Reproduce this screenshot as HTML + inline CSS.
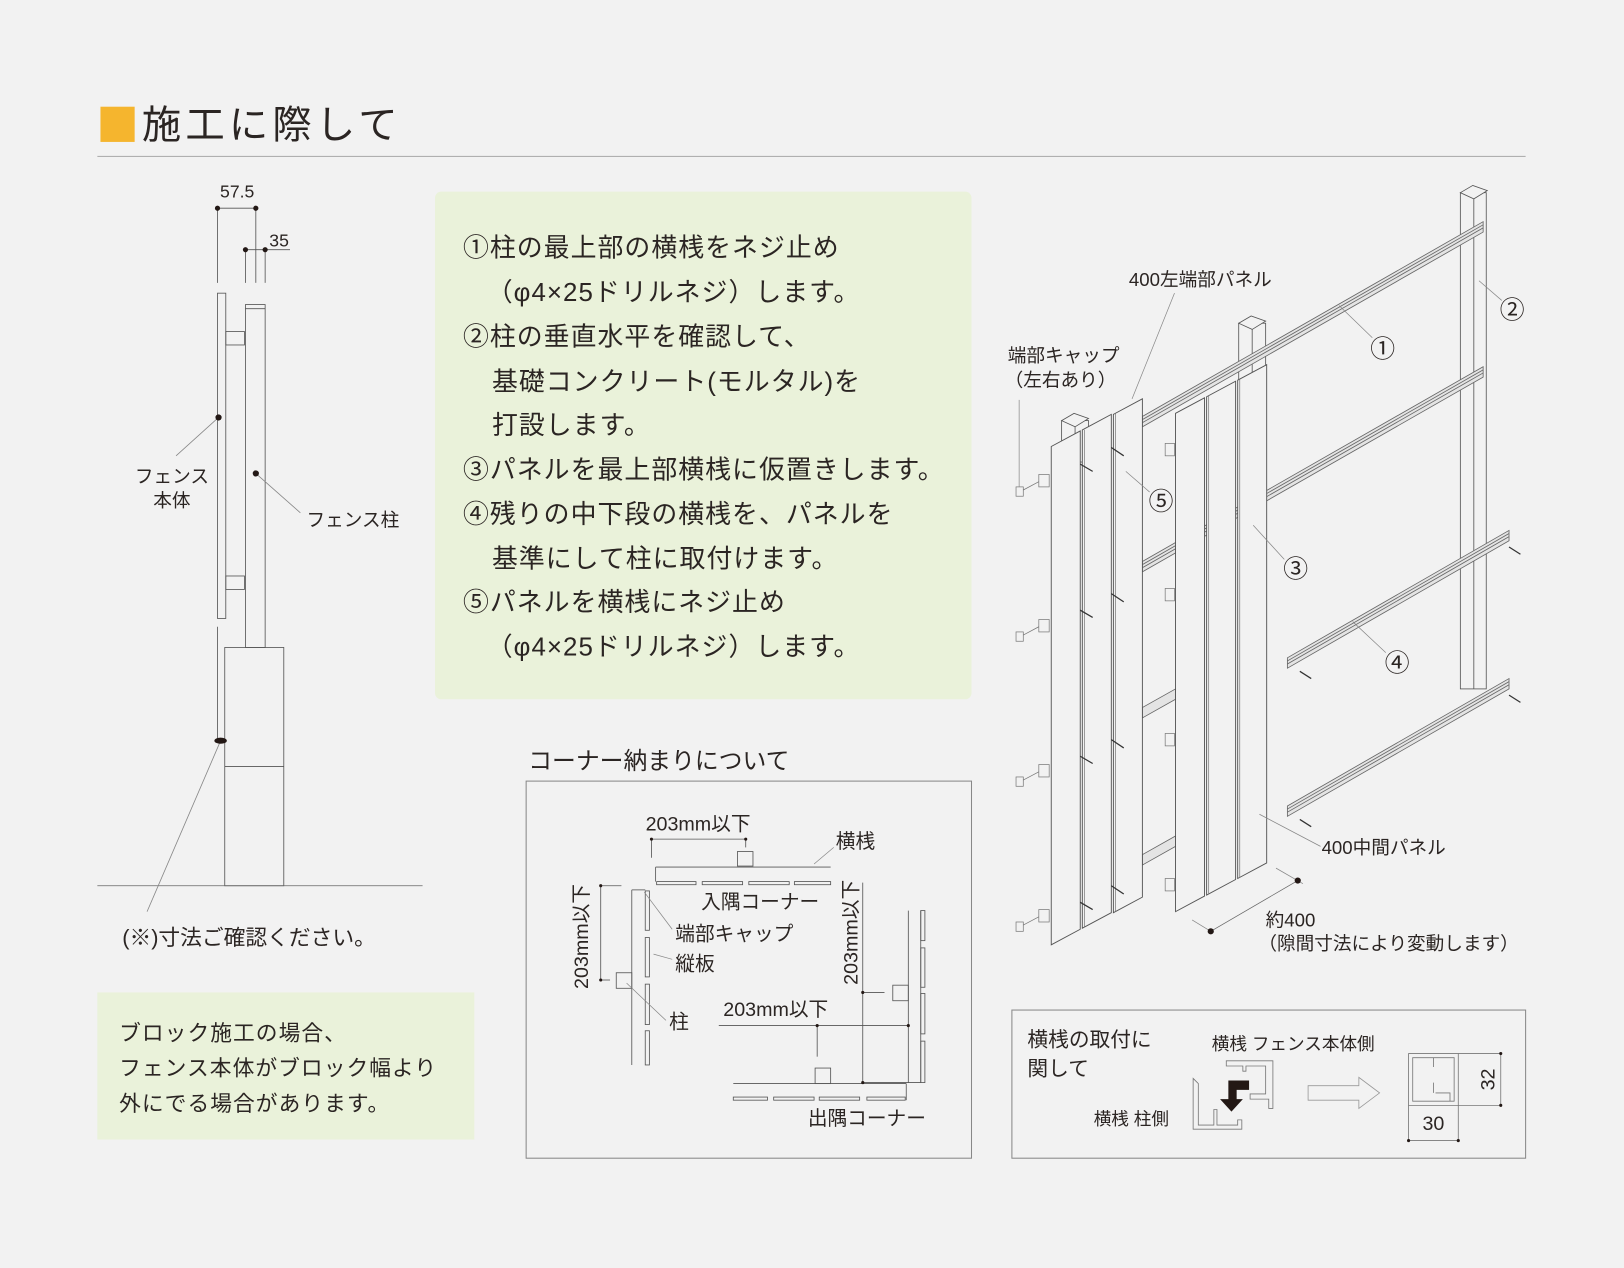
<!DOCTYPE html>
<html><head><meta charset="utf-8">
<style>
html,body{margin:0;padding:0;background:#f2f2f2;}
svg{display:block;}
text{font-family:"Liberation Sans","Noto Sans CJK JP",sans-serif;fill:#2b2523;}
</style></head>
<body>
<svg width="1624" height="1268" viewBox="0 0 1568 1224" preserveAspectRatio="none" xmlns="http://www.w3.org/2000/svg">
<rect width="1568" height="1224" fill="#f2f2f2"/>

<!-- Title -->
<rect x="97" y="103" width="33" height="34" fill="#f5b52e"/>
<text x="137" y="121" font-size="38" dominant-baseline="central" letter-spacing="4">施工に際して</text>
<line x1="94" y1="151" x2="1473" y2="151" stroke="#b0b0b0" stroke-width="1"/>

<!-- Left post diagram -->
<g stroke="#555" stroke-width="0.8" fill="none">
  <line x1="210" y1="201" x2="247" y2="201"/>
  <line x1="210" y1="201" x2="210" y2="273"/>
  <line x1="247" y1="201" x2="247" y2="273"/>
  <line x1="237" y1="241" x2="280" y2="241"/>
  <line x1="237" y1="241" x2="237" y2="273"/>
  <line x1="256" y1="241" x2="256" y2="273"/>
  <rect x="210" y="283" width="8" height="314"/>
  <rect x="237" y="294" width="19" height="331"/>
  <line x1="237" y1="298" x2="256" y2="298"/>
  <rect x="218" y="320" width="18" height="13"/>
  <rect x="218" y="556" width="18" height="13"/>
  <rect x="217" y="625" width="57" height="230"/>
  <line x1="217" y1="740" x2="274" y2="740"/>
  <line x1="210" y1="605" x2="210" y2="715"/>
  <line x1="94" y1="855" x2="408" y2="855" stroke="#666"/>
</g>
<g stroke="#888" stroke-width="0.8">
  <line x1="211" y1="403" x2="170" y2="440"/>
  <line x1="247" y1="457" x2="290" y2="495"/>
  <line x1="213" y1="715" x2="142" y2="880"/>
</g>
<g fill="#231815">
  <circle cx="210" cy="201" r="2.5"/><circle cx="247" cy="201" r="2.5"/>
  <circle cx="237" cy="241" r="2.5"/><circle cx="256" cy="241" r="2.5"/>
  <circle cx="211" cy="403" r="3"/><circle cx="247" cy="457" r="3"/>
  <ellipse cx="213" cy="715" rx="6" ry="3"/>
</g>
<text x="229" y="185" font-size="17" text-anchor="middle" dominant-baseline="central">57.5</text>
<text x="260" y="232" font-size="17" dominant-baseline="central">35</text>
<text x="166" y="460" font-size="18" text-anchor="middle" dominant-baseline="central">フェンス</text>
<text x="166" y="483" font-size="18" text-anchor="middle" dominant-baseline="central">本体</text>
<text x="296" y="502" font-size="18" dominant-baseline="central">フェンス柱</text>
<text x="118" y="905" font-size="21" dominant-baseline="central">(※)寸法ご確認ください。</text>

<rect x="94" y="958" width="364" height="142" fill="#eaf2da"/>
<text x="115" y="997" font-size="21" dominant-baseline="central" letter-spacing="1">ブロック施工の場合、</text>
<text x="115" y="1031" font-size="21" dominant-baseline="central" letter-spacing="1">フェンス本体がブロック幅より</text>
<text x="115" y="1065" font-size="21" dominant-baseline="central" letter-spacing="1">外にでる場合があります。</text>

<!-- Instruction box -->
<rect x="420" y="185" width="518" height="490" rx="6" fill="#eaf2da"/>
<g font-size="25" letter-spacing="1">
<text x="447" y="240" dominant-baseline="central">①柱の最上部の横桟をネジ止め</text>
<text x="470" y="283" dominant-baseline="central">（φ4×25ドリルネジ）します。</text>
<text x="447" y="326" dominant-baseline="central">②柱の垂直水平を確認して、</text>
<text x="475" y="369" dominant-baseline="central">基礎コンクリート(モルタル)を</text>
<text x="475" y="411" dominant-baseline="central">打設します。</text>
<text x="447" y="454" dominant-baseline="central">③パネルを最上部横桟に仮置きします。</text>
<text x="447" y="497" dominant-baseline="central">④残りの中下段の横桟を、パネルを</text>
<text x="475" y="540" dominant-baseline="central">基準にして柱に取付けます。</text>
<text x="447" y="582" dominant-baseline="central">⑤パネルを横桟にネジ止め</text>
<text x="470" y="625" dominant-baseline="central">（φ4×25ドリルネジ）します。</text>
</g>

<!-- Corner section -->
<text x="510" y="735" font-size="23" dominant-baseline="central">コーナー納まりについて</text>
<rect x="508" y="754" width="430" height="364" fill="none" stroke="#888" stroke-width="1"/>
<g stroke="#555" stroke-width="0.8" fill="none">
  <line x1="629" y1="810" x2="720" y2="810"/>
  <line x1="629" y1="810" x2="629" y2="828"/>
  <line x1="720" y1="810" x2="720" y2="818"/>
  <rect x="712" y="822" width="15" height="14"/>
  <line x1="633" y1="837" x2="802" y2="837"/>
  <line x1="633" y1="837" x2="633" y2="851"/>
  <rect x="634" y="851" width="38" height="3"/><rect x="678" y="851" width="39" height="3"/>
  <rect x="723" y="851" width="39" height="3"/><rect x="767" y="851" width="35" height="3"/>
  <line x1="580" y1="855" x2="580" y2="946"/>
  <line x1="580" y1="855" x2="600" y2="855"/>
  <line x1="580" y1="946" x2="589" y2="946"/>
  <line x1="610" y1="859" x2="610" y2="1028"/>
  <line x1="610" y1="859" x2="623" y2="859"/>
  <rect x="623" y="860" width="4" height="38"/><rect x="623" y="905" width="4" height="38"/>
  <rect x="623" y="950" width="4" height="39"/><rect x="623" y="995" width="4" height="33"/>
  <rect x="595" y="939" width="15" height="15"/>
  <line x1="833" y1="852" x2="833" y2="1045"/>
  <line x1="833" y1="958" x2="854" y2="958"/>
  <rect x="862" y="951" width="15" height="15"/>
  <line x1="694" y1="990" x2="877" y2="990"/>
  <line x1="789" y1="990" x2="789" y2="1020"/>
  <rect x="787" y="1031" width="15" height="15"/>
  <line x1="708" y1="1046" x2="875" y2="1046"/>
  <line x1="875" y1="1046" x2="875" y2="1062"/>
  <line x1="833" y1="1045" x2="889" y2="1045"/>
  <rect x="708" y="1059" width="33" height="3"/><rect x="747" y="1059" width="39" height="3"/>
  <rect x="791" y="1059" width="39" height="3"/><rect x="837" y="1059" width="37" height="3"/>
  <line x1="877" y1="879" x2="877" y2="1045"/>
  <line x1="889" y1="879" x2="889" y2="1045"/>
  <rect x="889" y="879" width="4" height="29"/><rect x="889" y="915" width="4" height="38"/>
  <rect x="889" y="959" width="4" height="39"/><rect x="889" y="1005" width="4" height="40"/>
</g>
<g stroke="#888" stroke-width="0.7">
  <line x1="786" y1="834" x2="805" y2="818"/>
  <line x1="622" y1="861" x2="649" y2="897"/>
  <line x1="631" y1="921" x2="649" y2="926"/>
  <line x1="605" y1="949" x2="643" y2="985"/>
</g>
<g fill="#231815">
  <circle cx="629" cy="810" r="1.5"/><circle cx="720" cy="810" r="1.5"/>
  <circle cx="580" cy="855" r="1.5"/><circle cx="580" cy="946" r="1.5"/>
  <circle cx="833" cy="958" r="1.5"/><circle cx="833" cy="1045" r="1.5"/>
  <circle cx="789" cy="990" r="1.5"/><circle cx="877" cy="990" r="1.5"/>
</g>
<g font-size="19">
<text x="674" y="796" text-anchor="middle" dominant-baseline="central">203mm以下</text>
<text x="807" y="813" dominant-baseline="central">横桟</text>
<text x="677" y="871" dominant-baseline="central">入隅コーナー</text>
<text transform="translate(562,904) rotate(-90)" text-anchor="middle" dominant-baseline="central">203mm以下</text>
<text x="652" y="902" dominant-baseline="central">端部キャップ</text>
<text x="652" y="931" dominant-baseline="central">縦板</text>
<text x="646" y="987" dominant-baseline="central">柱</text>
<text transform="translate(822,900) rotate(-90)" text-anchor="middle" dominant-baseline="central">203mm以下</text>
<text x="749" y="975" text-anchor="middle" dominant-baseline="central">203mm以下</text>
<text x="780" y="1080" dominant-baseline="central">出隅コーナー</text>
</g>

<!-- Isometric drawing -->
<g stroke="#555" stroke-width="0.8" fill="#f2f2f2">
  <!-- right post -->
  <rect x="1410" y="186" width="25" height="479"/>
  <line x1="1423" y1="192" x2="1423" y2="665"/>
  <polygon points="1410,186 1422,179 1436,184 1423,192"/>
  <!-- middle post -->
  <rect x="1196" y="312" width="26" height="80"/>
  <line x1="1209" y1="318" x2="1209" y2="392"/>
  <polygon points="1196,312 1208,305 1222,310 1209,318"/>
  <!-- left post -->
  <rect x="1025" y="406" width="26" height="40"/>
  <line x1="1038" y1="412" x2="1038" y2="446"/>
  <polygon points="1025,406 1037,399 1051,404 1038,412"/>
</g>
<g stroke="#666" stroke-width="0.8" fill="#e4e4e4">
  <!-- rails -->
  <polygon points="1103,402 1432,214 1432,224 1103,412"/>
  <line x1="1103" y1="405" x2="1432" y2="217"/><line x1="1103" y1="408" x2="1432" y2="220"/>
  <polygon points="1103,542 1432,354 1432,364 1103,552"/>
  <line x1="1103" y1="545" x2="1432" y2="357"/><line x1="1103" y1="548" x2="1432" y2="360"/>
  <polygon points="1243,635 1457,512 1457,522 1243,645"/>
  <line x1="1243" y1="638" x2="1457" y2="515"/><line x1="1243" y1="641" x2="1457" y2="518"/>
  <polygon points="1243,778 1457,655 1457,665 1243,788"/>
  <line x1="1243" y1="781" x2="1457" y2="658"/><line x1="1243" y1="784" x2="1457" y2="661"/>
  <polygon points="1103,683 1135,665 1135,675 1103,693"/>
  <polygon points="1103,825 1135,807 1135,817 1103,835"/>
</g>
<g stroke="#555" stroke-width="0.9" fill="#f2f2f2">
  <!-- left group panels -->
  <polygon points="1015,431 1043,416 1043,897 1015,912"/>
  <polygon points="1045,415 1073,400 1073,881 1045,896"/>
  <polygon points="1075,400 1103,385 1103,866 1075,881"/>
  <!-- middle group -->
  <polygon points="1135,399 1163,384 1163,865 1135,880"/>
  <polygon points="1165,383 1193,368 1193,849 1165,864"/>
  <polygon points="1195,367 1223,352 1223,833 1195,848"/>
</g>
<g stroke="#777" stroke-width="0.7" fill="none">
  <line x1="1047" y1="415" x2="1047" y2="895"/><line x1="1077" y1="399" x2="1077" y2="880"/>
  <line x1="1167" y1="382" x2="1167" y2="863"/><line x1="1197" y1="366" x2="1197" y2="847"/>
  <!-- brackets and caps -->
  <rect x="1003" y="458" width="10" height="12"/><rect x="1003" y="598" width="10" height="12"/>
  <rect x="1003" y="738" width="10" height="12"/><rect x="1003" y="878" width="10" height="12"/>
  <rect x="981" y="470" width="7" height="9"/><rect x="981" y="610" width="7" height="9"/>
  <rect x="981" y="750" width="7" height="9"/><rect x="981" y="890" width="7" height="9"/>
  <rect x="1125" y="428" width="9" height="12"/><rect x="1125" y="568" width="9" height="12"/>
  <rect x="1125" y="708" width="9" height="12"/><rect x="1125" y="848" width="9" height="12"/>
  <line x1="988" y1="473" x2="1003" y2="465"/><line x1="988" y1="613" x2="1003" y2="605"/>
  <line x1="988" y1="753" x2="1003" y2="745"/><line x1="988" y1="893" x2="1003" y2="885"/>
</g>
<g stroke="#333" stroke-width="1.2">
  <line x1="1043" y1="448" x2="1055" y2="455"/><line x1="1073" y1="432" x2="1085" y2="440"/>
  <line x1="1043" y1="589" x2="1055" y2="596"/><line x1="1073" y1="573" x2="1085" y2="581"/>
  <line x1="1043" y1="730" x2="1055" y2="737"/><line x1="1073" y1="714" x2="1085" y2="722"/>
  <line x1="1043" y1="871" x2="1055" y2="878"/><line x1="1073" y1="855" x2="1085" y2="863"/>
  <line x1="1457" y1="528" x2="1468" y2="535"/><line x1="1457" y1="671" x2="1468" y2="678"/>
  <line x1="1255" y1="648" x2="1266" y2="655"/><line x1="1255" y1="791" x2="1266" y2="798"/>
</g>
<g stroke="#888" stroke-width="0.7">
  <line x1="1134" y1="283" x2="1093" y2="385"/>
  <line x1="984" y1="386" x2="984" y2="470"/>
  <line x1="1293" y1="295" x2="1325" y2="326"/>
  <line x1="1428" y1="271" x2="1450" y2="290"/>
  <line x1="1087" y1="455" x2="1110" y2="475"/>
  <line x1="1210" y1="507" x2="1240" y2="540"/>
  <line x1="1306" y1="600" x2="1338" y2="630"/>
  <line x1="1216" y1="786" x2="1275" y2="817"/>
  <line x1="1151" y1="888" x2="1169" y2="899"/>
  <line x1="1232" y1="838" x2="1258" y2="853"/>
  <line x1="1169" y1="899" x2="1253" y2="850" stroke="#666"/>
</g>
<circle cx="1169" cy="899" r="3" fill="#231815"/>
<circle cx="1253" cy="850" r="3" fill="#231815"/>
<g font-size="18">
<text x="1090" y="270" dominant-baseline="central">400左端部パネル</text>
<text x="973" y="343" dominant-baseline="central">端部キャップ</text>
<text x="970" y="367" dominant-baseline="central">（左右あり）</text>
<text x="1276" y="818" dominant-baseline="central">400中間パネル</text>
<text x="1222" y="888" dominant-baseline="central">約400</text>
<text x="1215" y="911" dominant-baseline="central">（隙間寸法により変動します）</text>
</g>
<g font-size="24" text-anchor="middle">
<text x="1335" y="338" dominant-baseline="central">①</text>
<text x="1460" y="300" dominant-baseline="central">②</text>
<text x="1121" y="485" dominant-baseline="central">⑤</text>
<text x="1251" y="550" dominant-baseline="central">③</text>
<text x="1349" y="641" dominant-baseline="central">④</text>
</g>

<!-- Bottom right box -->
<rect x="977" y="975" width="496" height="143" fill="none" stroke="#888" stroke-width="1"/>
<text x="992" y="1004" font-size="20" dominant-baseline="central">横桟の取付に</text>
<text x="992" y="1032" font-size="20" dominant-baseline="central">関して</text>
<text x="1170" y="1008" font-size="17" dominant-baseline="central">横桟  フェンス本体側</text>
<text x="1056" y="1080" font-size="17" dominant-baseline="central">横桟  柱側</text>
<g stroke="#777" stroke-width="0.8" fill="none">
  <path d="M1184,1024 H1229 V1070 H1225 V1061 H1207 V1056 H1222 V1029 H1203 V1034 H1200 V1029 H1184 Z"/>
  <path d="M1152,1041 V1090 H1199 V1081 H1195 V1086 H1175 V1071 H1172 V1086 H1157 V1046 Z"/>
  <polygon points="1263,1048 1312,1048 1312,1040 1332,1055 1312,1070 1312,1062 1263,1062" stroke="#999"/>
  <path d="M1360,1017 H1408 V1067 H1360 Z"/>
  <path d="M1364,1021 H1404 V1063 H1364 Z"/>
  <path d="M1384,1021 V1030 M1384,1045 V1055 M1386,1055 H1400 V1063"/>
  <line x1="1408" y1="1017" x2="1449" y2="1017"/>
  <line x1="1408" y1="1067" x2="1449" y2="1067"/>
  <line x1="1449" y1="1017" x2="1449" y2="1067"/>
  <line x1="1360" y1="1067" x2="1360" y2="1101"/>
  <line x1="1408" y1="1067" x2="1408" y2="1101"/>
  <line x1="1360" y1="1101" x2="1408" y2="1101"/>
</g>
<polygon points="1186,1043 1206,1043 1206,1052 1194,1052 1194,1061 1200,1061 1189,1073 1178,1061 1186,1061" fill="#231815"/>
<g fill="#231815">
  <circle cx="1449" cy="1017" r="1.5"/><circle cx="1449" cy="1067" r="1.5"/>
  <circle cx="1360" cy="1101" r="1.5"/><circle cx="1408" cy="1101" r="1.5"/>
</g>
<text x="1384" y="1085" font-size="19" text-anchor="middle" dominant-baseline="central">30</text>
<text transform="translate(1437,1042) rotate(-90)" font-size="19" text-anchor="middle" dominant-baseline="central">32</text>
</svg>
</body></html>
